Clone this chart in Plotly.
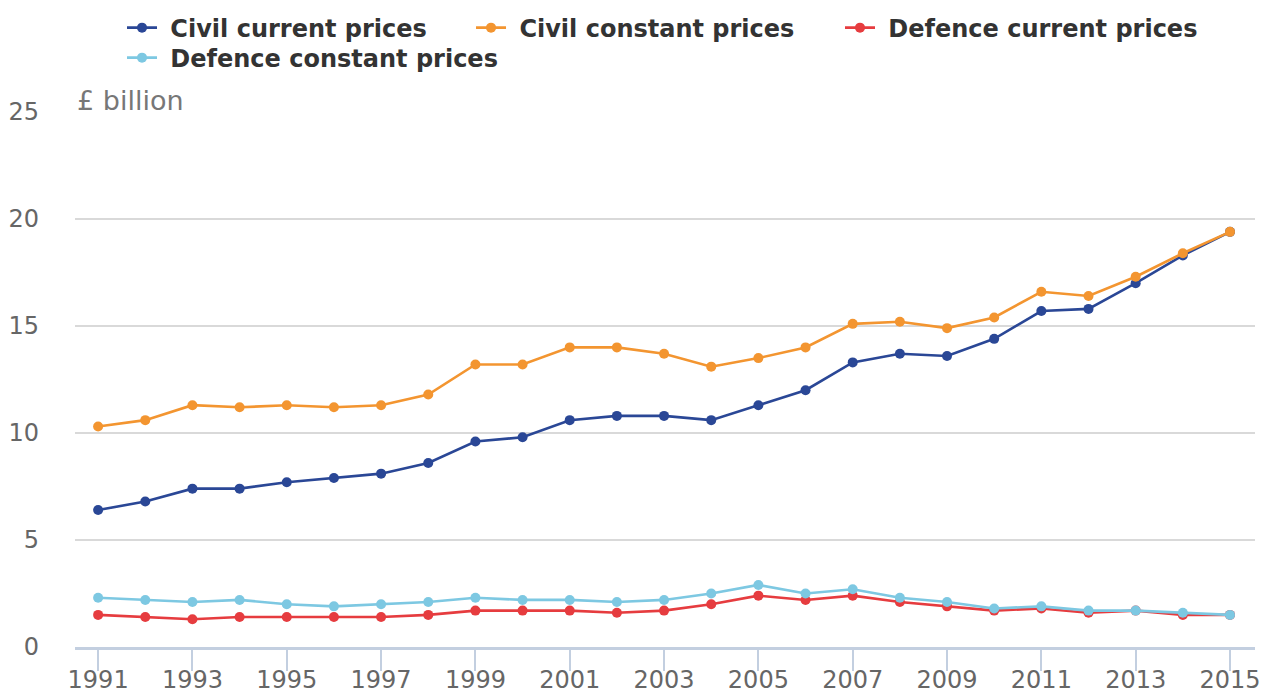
import plotly.graph_objects as go

years = list(range(1991, 2016))
civil_current = [6.4, 6.8, 7.4, 7.4, 7.7, 7.9, 8.1, 8.6, 9.6, 9.8, 10.6, 10.8, 10.8, 10.6,
                 11.3, 12.0, 13.3, 13.7, 13.6, 14.4, 15.7, 15.8, 17.0, 18.3, 19.4]
civil_constant = [10.3, 10.6, 11.3, 11.2, 11.3, 11.2, 11.3, 11.8, 13.2, 13.2, 14.0, 14.0, 13.7, 13.1,
                  13.5, 14.0, 15.1, 15.2, 14.9, 15.4, 16.6, 16.4, 17.3, 18.4, 19.4]
defence_current = [1.5, 1.4, 1.3, 1.4, 1.4, 1.4, 1.4, 1.5, 1.7, 1.7, 1.7, 1.6, 1.7, 2.0,
                   2.4, 2.2, 2.4, 2.1, 1.9, 1.7, 1.8, 1.6, 1.7, 1.5, 1.5]
defence_constant = [2.3, 2.2, 2.1, 2.2, 2.0, 1.9, 2.0, 2.1, 2.3, 2.2, 2.2, 2.1, 2.2, 2.5,
                    2.9, 2.5, 2.7, 2.3, 2.1, 1.8, 1.9, 1.7, 1.7, 1.6, 1.5]

series_names = ["Civil current prices", "Civil constant prices",
                "Defence current prices", "Defence constant prices"]
series_values = [civil_current, civil_constant, defence_current, defence_constant]
series_colors = ["#2a4796", "#f39530", "#e63c3f", "#7dc8e2"]

x_tick_vals = list(range(1991, 2016, 2))
x_tick_text = [str(v) for v in x_tick_vals]
y_tick_vals = [0, 5, 10, 15, 20, 25]

legend_ids = ["legend", "legend2", "legend3", "legend4"]
# legend box anchors (container fractions)
legend_x = [0.0897, 0.3643, 0.6546, 0.0897]
legend_y = [0.9711, 0.9711, 0.9711, 0.9278]

fig = go.Figure()
for name, vals, col, lid in zip(series_names, series_values, series_colors, legend_ids):
    fig.add_trace(go.Scatter(
        x=years, y=vals, name="\u00a0" + name, mode="lines+markers",
        line=dict(color=col, width=2.6),
        marker=dict(color=col, size=10),
        legend=lid,
    ))

legend_font = dict(size=24, color="#333333", family="DejaVu Sans", weight="bold")
legend_layout = {}
for lid, lx, ly in zip(legend_ids, legend_x, legend_y):
    legend_layout[lid] = dict(
        orientation="h", x=lx, xanchor="left", xref="container",
        y=ly, yanchor="middle", yref="container",
        font=legend_font, bgcolor="rgba(0,0,0,0)",
    )

fig.update_layout(
    width=1271, height=693,
    paper_bgcolor="white", plot_bgcolor="white",
    margin=dict(l=67, r=24, t=104, b=54),
    font=dict(family="DejaVu Sans", color="#666666"),
    showlegend=True,
    xaxis=dict(
        range=[1990.51, 2015.53],
        tickvals=x_tick_vals, ticktext=x_tick_text,
        tickfont=dict(size=24, color="#666666"),
        ticks="outside", ticklen=21, tickwidth=2, tickcolor="#c3cfe0",
        ticklabelstandoff=-12,
        showgrid=False, showline=True, linecolor="#c3cfe0", linewidth=3,
        zeroline=False, automargin=False,
    ),
    yaxis=dict(
        range=[0, 25],
        tickvals=y_tick_vals,
        tickfont=dict(size=24, color="#666666"),
        showgrid=True, gridcolor="#d9d9d9", gridwidth=2,
        zeroline=True, zerolinecolor="#8a8a8a", zerolinewidth=3,
        showline=False, ticklabelstandoff=35, automargin=False,
    ),
    annotations=[dict(
        text="£ billion", xref="paper", yref="paper", x=0, y=1.0,
        xanchor="left", yanchor="bottom", showarrow=False, yshift=-6,
        font=dict(size=27, color="#777777", family="DejaVu Sans"),
    )],
    **legend_layout,
)

fig.write_html("out.html")
